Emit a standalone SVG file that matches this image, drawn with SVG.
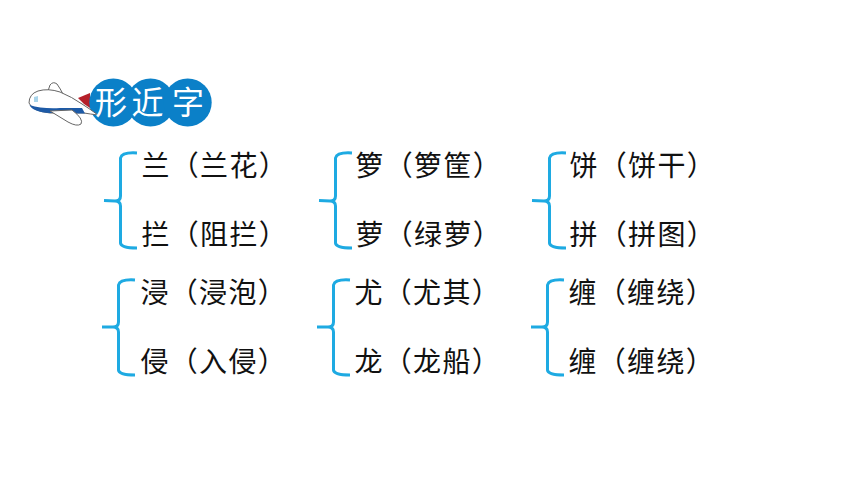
<svg xmlns="http://www.w3.org/2000/svg" width="860" height="484" viewBox="0 0 860 484">
<style>
.t{font-family:"Noto Sans CJK SC","Noto Sans",sans-serif;font-size:28px;letter-spacing:1.300px;fill:#111}
.h{font-family:"Noto Sans CJK SC","Noto Sans",sans-serif;font-size:32px;fill:#fff;text-anchor:middle}
.b{fill:none;stroke:#1eaae2;stroke-width:3;stroke-linecap:butt;stroke-linejoin:round}
.c{fill:#0b80c8}
.p{stroke:#666;stroke-width:1}
</style>
<rect width="860" height="484" fill="#fff"/>
<g id="title">
<path class="p" d="M47 94 L50 85 Q53 81 57 84 Q60 88 64 96 Z" fill="#fff"/>
<path d="M78 98 L90 93 L90 108 L84 104 Z" fill="#b5202a"/>
<circle class="c" cx="113.300" cy="102.500" r="24"/>
<circle class="c" cx="150.500" cy="102.500" r="24"/>
<circle class="c" cx="187.700" cy="102.500" r="24"/>
<path class="p" d="M29 103 Q29 94 38 91 Q48 88 60 92 Q72 97 82 104 Q90 109 98 115 Q90 114 84 113 L50 113 Q32 111 29 103 Z" fill="#fff"/>
<path d="M29.500 105 Q33 112 50 113 L85 113.500 L82 108 L60 108 Q42 109 29.500 105 Z" fill="#1d5aa6"/>
<path class="p" d="M50 111 L72 110 Q84 119 81 124 Q77 127 68 122 Z" fill="#fff"/>
<path d="M34 97 L38 96 L38 102 L34 102 Z" fill="#a8d4ea"/>
<text class="h" x="111" y="114">形</text>
<text class="h" x="147.500" y="114">近</text>
<text class="h" x="188" y="114">字</text>
</g>
<g id="connectors">
<path class="b" d="M137 153 Q122 152 120.500 158 L120.500 196 Q120.500 201 115 201 L104 200.500 M115 201 Q120.500 201 120.500 206 L120.500 243 Q121 248 137 248"/>
<path class="b" d="M352 153 Q337 152 335.500 158 L335.500 196 Q335.500 201 330 201 L319 200.500 M330 201 Q335.500 201 335.500 206 L335.500 243 Q336 248 352 248"/>
<path class="b" d="M566 153 Q551 152 549.500 158 L549.500 196 Q549.500 201 544 201 L532 200.500 M544 201 Q549.500 201 549.500 206 L549.500 243 Q550 248 566 248"/>
<path class="b" d="M135 280 Q120 279 118.500 285 L118.500 322 Q118.500 327 113 327 L102 327 M113 327 Q118.500 327 118.500 332 L118.500 370 Q119 375 135 375"/>
<path class="b" d="M350 280 Q335 279 333.500 285 L333.500 322 Q333.500 327 328 327 L317 327 M328 327 Q333.500 327 333.500 332 L333.500 370 Q334 375 350 375"/>
<path class="b" d="M564 280 Q549 279 547.500 285 L547.500 322 Q547.500 327 542 327 L531 327 M542 327 Q547.500 327 547.500 332 L547.500 370 Q548 375 564 375"/>
</g>
<g id="n1"><text class="t" x="141.500" y="176">兰（兰花）</text></g>
<g id="n2"><text class="t" x="141.500" y="245">拦（阻拦）</text></g>
<g id="n3"><text class="t" x="355.500" y="176">箩（箩筐）</text></g>
<g id="n4"><text class="t" x="355.500" y="245">萝（绿萝）</text></g>
<g id="n5"><text class="t" x="569.500" y="176">饼（饼干）</text></g>
<g id="n6"><text class="t" x="569.500" y="245">拼（拼图）</text></g>
<g id="n7"><text class="t" x="140.500" y="303">浸（浸泡）</text></g>
<g id="n8"><text class="t" x="140.500" y="372">侵（入侵）</text></g>
<g id="n9"><text class="t" x="354.500" y="303">尤（尤其）</text></g>
<g id="n10"><text class="t" x="354.500" y="372">龙（龙船）</text></g>
<g id="n11"><text class="t" x="568.500" y="303">缠（缠绕）</text></g>
<g id="n12"><text class="t" x="568.500" y="372">缠（缠绕）</text></g>
</svg>
